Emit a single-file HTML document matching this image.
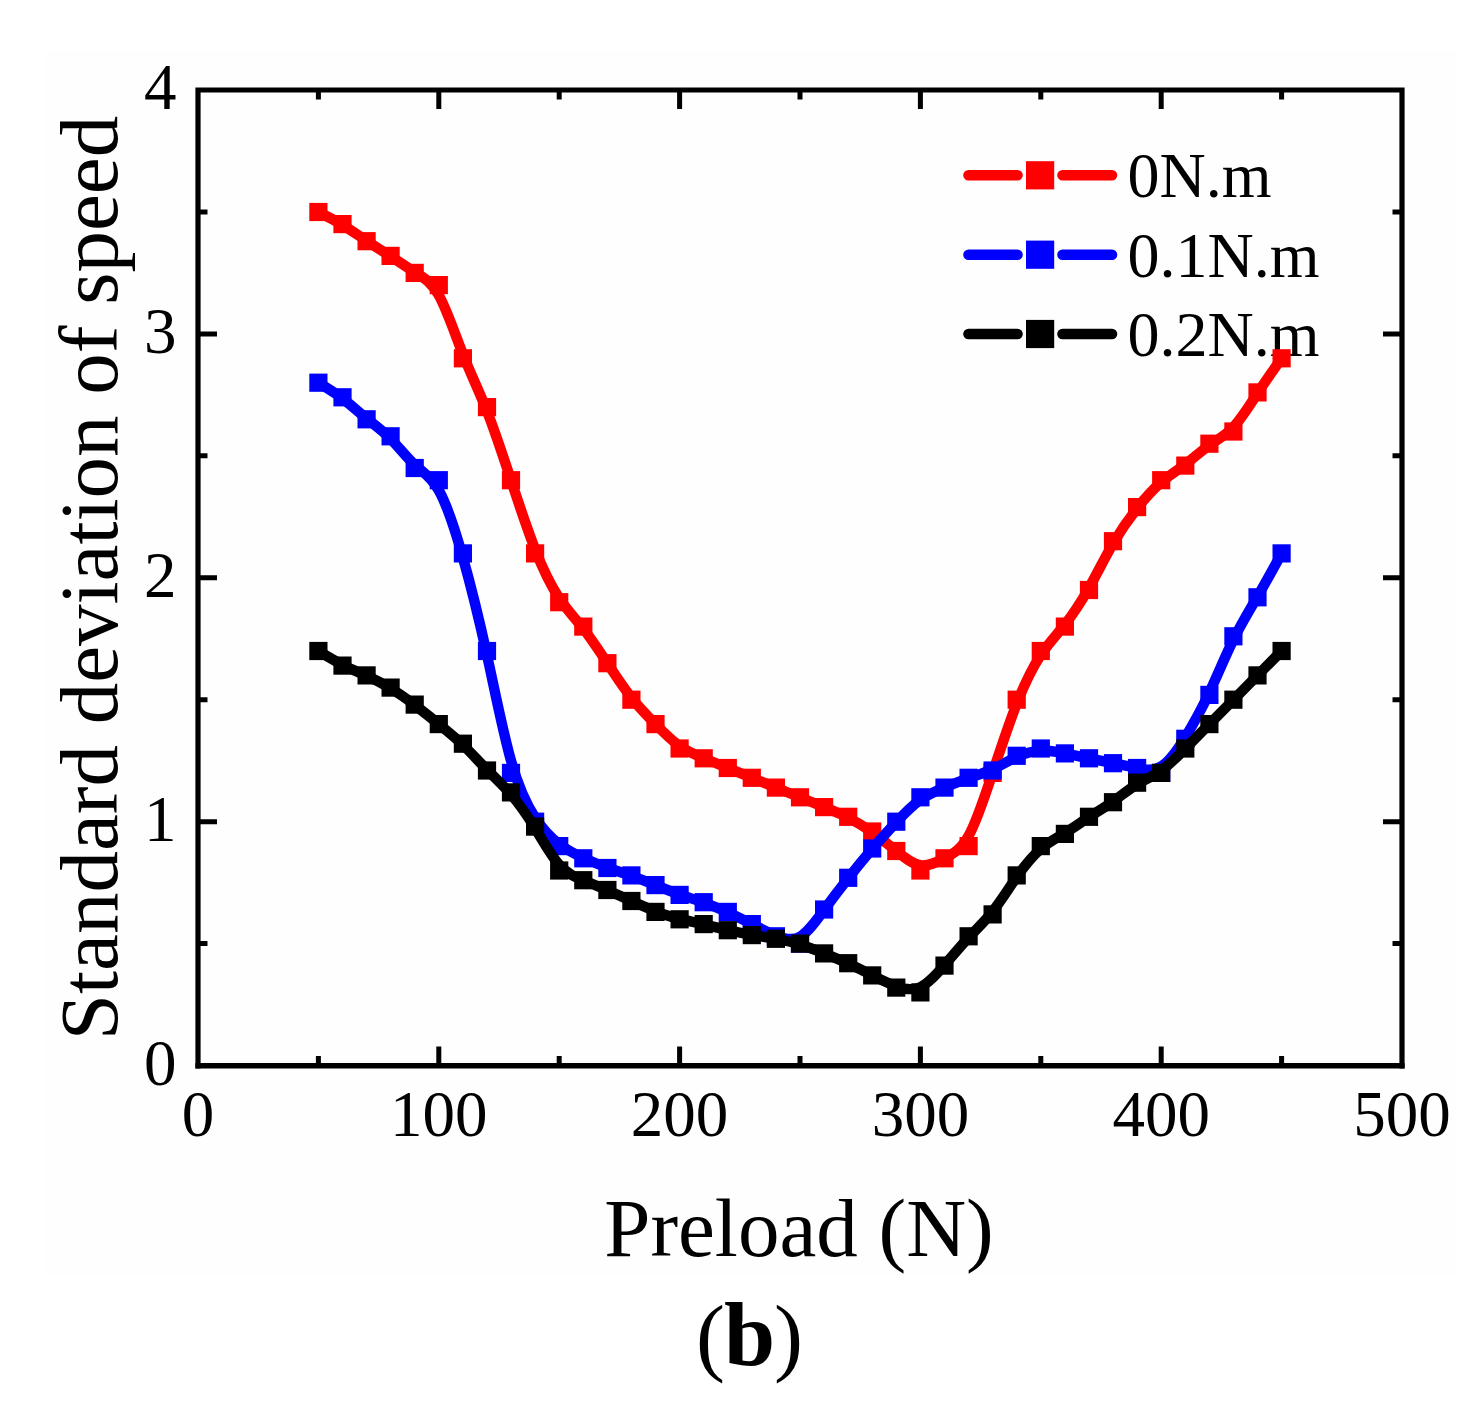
<!DOCTYPE html>
<html lang="en">
<head>
<meta charset="utf-8">
<title>Standard deviation of speed vs Preload (b)</title>
<style>
html,body{margin:0;padding:0;background:#fff;}
body{width:1482px;height:1427px;overflow:hidden;}
svg{display:block;filter:blur(0.55px);}
text{font-family:"Liberation Serif",serif;fill:#000;}
</style>
</head>
<body>
<svg width="1482" height="1427" viewBox="0 0 1482 1427">
<rect x="0" y="0" width="1482" height="1427" fill="#ffffff"/>
<rect x="44" y="51" width="1412.5" height="1224" fill="#fefefe"/>
<g font-size="65"><text x="198.0" y="1135.5" text-anchor="middle">0</text><text x="438.8" y="1135.5" text-anchor="middle">100</text><text x="679.6" y="1135.5" text-anchor="middle">200</text><text x="920.4" y="1135.5" text-anchor="middle">300</text><text x="1161.2" y="1135.5" text-anchor="middle">400</text><text x="1402.0" y="1135.5" text-anchor="middle">500</text><text x="176.5" y="1084.8" text-anchor="end">0</text><text x="176.5" y="840.9" text-anchor="end">1</text><text x="176.5" y="597.0" text-anchor="end">2</text><text x="176.5" y="353.1" text-anchor="end">3</text><text x="176.5" y="109.2" text-anchor="end">4</text></g>
<text transform="translate(117 578) rotate(-90)" font-size="83" text-anchor="middle">Standard deviation of speed</text>
<text x="799" y="1256.3" font-size="83" text-anchor="middle">Preload (N)</text>
<text y="1365" font-size="87"><tspan x="696">(</tspan><tspan x="724" font-size="92" font-weight="bold">b</tspan><tspan x="774">)</tspan></text>
<g stroke="#ff0000" stroke-width="10.6" stroke-linecap="round"><path d="M968.5 175.3H1017.5M1062.5 175.3H1112"/></g><rect x="1026" y="161.2" width="28.2" height="28.2" fill="#ff0000"/><text x="1127.5" y="197.3" font-size="64">0N.m</text><g stroke="#0000ff" stroke-width="10.6" stroke-linecap="round"><path d="M968.5 254.7H1017.5M1062.5 254.7H1112"/></g><rect x="1026" y="240.6" width="28.2" height="28.2" fill="#0000ff"/><text x="1127.5" y="276.7" font-size="64">0.1N.m</text><g stroke="#000000" stroke-width="10.6" stroke-linecap="round"><path d="M968.5 334.0H1017.5M1062.5 334.0H1112"/></g><rect x="1026" y="319.9" width="28.2" height="28.2" fill="#000000"/><text x="1127.5" y="356.0" font-size="64">0.2N.m</text>
<path d="M318.4 212.0C326.4 216.0 334.5 220.1 342.5 225.0C350.5 229.8 358.5 235.5 366.6 240.8C374.6 246.1 382.6 251.0 390.6 256.3C398.7 261.5 406.7 267.2 414.7 272.1C422.7 277.0 430.8 281.1 438.8 295.3C446.8 309.5 454.9 333.9 462.9 354.2C470.9 374.5 478.9 390.8 487.0 411.1C495.0 431.5 503.0 455.8 511.0 480.2C519.1 504.6 527.1 529.0 535.1 549.3C543.1 569.7 551.2 585.9 559.2 598.1C567.2 610.3 575.3 618.4 583.3 628.6C591.3 638.8 599.3 651.0 607.4 663.2C615.4 675.4 623.4 687.6 631.4 697.7C639.5 707.9 647.5 716.0 655.5 724.1C663.5 732.3 671.6 740.4 679.6 746.1C687.6 751.8 695.7 755.0 703.7 758.3C711.7 761.5 719.7 764.8 727.8 768.0C735.8 771.3 743.8 774.5 751.8 777.8C759.9 781.1 767.9 784.3 775.9 787.6C783.9 790.8 792.0 794.1 800.0 797.3C808.0 800.6 816.1 803.8 824.1 807.1C832.1 810.3 840.1 813.6 848.2 817.6C856.2 821.7 864.2 826.6 872.2 832.3C880.3 838.0 888.3 844.5 896.3 851.0C904.3 857.5 912.4 864.0 920.4 865.2C928.4 866.4 936.5 862.3 944.5 858.3C952.5 854.2 960.5 850.2 968.6 835.9C976.6 821.7 984.6 797.3 992.6 772.9C1000.7 748.5 1008.7 724.1 1016.7 703.8C1024.7 683.5 1032.8 667.2 1040.8 655.0C1048.8 642.8 1056.9 634.7 1064.9 624.5C1072.9 614.4 1080.9 602.2 1089.0 588.0C1097.0 573.7 1105.0 557.5 1113.0 543.7C1121.1 529.8 1129.1 518.5 1137.1 508.3C1145.1 498.1 1153.2 489.2 1161.2 482.3C1169.2 475.4 1177.3 470.5 1185.3 464.4C1193.3 458.3 1201.3 451.0 1209.4 445.3C1217.4 439.6 1225.4 435.5 1233.4 427.0C1241.5 418.5 1249.5 405.4 1257.5 393.2C1265.5 381.1 1273.6 369.7 1281.6 358.3" fill="none" stroke="#ff0000" stroke-width="10.4" stroke-linejoin="round" stroke-linecap="round"/>
<g fill="#ff0000"><rect x="309.3" y="202.9" width="18.2" height="18.2"/><rect x="333.4" y="215.0" width="18.2" height="18.2"/><rect x="357.5" y="232.1" width="18.2" height="18.2"/><rect x="381.5" y="246.8" width="18.2" height="18.2"/><rect x="405.6" y="263.8" width="18.2" height="18.2"/><rect x="429.7" y="276.0" width="18.2" height="18.2"/><rect x="453.8" y="349.2" width="18.2" height="18.2"/><rect x="477.9" y="398.0" width="18.2" height="18.2"/><rect x="501.9" y="471.1" width="18.2" height="18.2"/><rect x="526.0" y="544.3" width="18.2" height="18.2"/><rect x="550.1" y="593.1" width="18.2" height="18.2"/><rect x="574.2" y="617.5" width="18.2" height="18.2"/><rect x="598.3" y="654.1" width="18.2" height="18.2"/><rect x="622.3" y="690.6" width="18.2" height="18.2"/><rect x="646.4" y="715.0" width="18.2" height="18.2"/><rect x="670.5" y="739.4" width="18.2" height="18.2"/><rect x="694.6" y="749.2" width="18.2" height="18.2"/><rect x="718.7" y="758.9" width="18.2" height="18.2"/><rect x="742.7" y="768.7" width="18.2" height="18.2"/><rect x="766.8" y="778.5" width="18.2" height="18.2"/><rect x="790.9" y="788.2" width="18.2" height="18.2"/><rect x="815.0" y="798.0" width="18.2" height="18.2"/><rect x="839.1" y="807.7" width="18.2" height="18.2"/><rect x="863.1" y="822.4" width="18.2" height="18.2"/><rect x="887.2" y="841.9" width="18.2" height="18.2"/><rect x="911.3" y="861.4" width="18.2" height="18.2"/><rect x="935.4" y="849.2" width="18.2" height="18.2"/><rect x="959.5" y="837.0" width="18.2" height="18.2"/><rect x="983.5" y="763.8" width="18.2" height="18.2"/><rect x="1007.6" y="690.6" width="18.2" height="18.2"/><rect x="1031.7" y="641.9" width="18.2" height="18.2"/><rect x="1055.8" y="617.5" width="18.2" height="18.2"/><rect x="1079.9" y="580.9" width="18.2" height="18.2"/><rect x="1103.9" y="532.1" width="18.2" height="18.2"/><rect x="1128.0" y="498.0" width="18.2" height="18.2"/><rect x="1152.1" y="471.1" width="18.2" height="18.2"/><rect x="1176.2" y="456.5" width="18.2" height="18.2"/><rect x="1200.3" y="434.6" width="18.2" height="18.2"/><rect x="1224.3" y="422.4" width="18.2" height="18.2"/><rect x="1248.4" y="383.3" width="18.2" height="18.2"/><rect x="1272.5" y="349.2" width="18.2" height="18.2"/></g>
<path d="M318.4 382.7C326.4 387.6 334.5 392.4 342.5 398.5C350.5 404.6 358.5 411.9 366.6 418.5C374.6 425.0 382.6 430.6 390.6 438.8C398.7 446.9 406.7 457.5 414.7 464.8C422.7 472.1 430.8 476.2 438.8 490.4C446.8 504.6 454.9 529.0 462.9 557.5C470.9 585.9 478.9 618.4 487.0 655.0C495.0 691.6 503.0 732.3 511.0 760.7C519.1 789.2 527.1 805.4 535.1 817.6C543.1 829.8 551.2 838.0 559.2 844.1C567.2 850.2 575.3 854.2 583.3 857.9C591.3 861.5 599.3 864.8 607.4 867.6C615.4 870.5 623.4 872.9 631.4 875.8C639.5 878.6 647.5 881.9 655.5 885.1C663.5 888.4 671.6 891.6 679.6 894.5C687.6 897.3 695.7 899.7 703.7 902.6C711.7 905.4 719.7 908.7 727.8 912.3C735.8 916.0 743.8 920.1 751.8 924.1C759.9 928.2 767.9 932.3 775.9 935.5C783.9 938.8 792.0 941.2 800.0 936.7C808.0 932.3 816.1 920.9 824.1 909.9C832.1 898.9 840.1 888.4 848.2 878.2C856.2 868.0 864.2 858.3 872.2 848.9C880.3 839.6 888.3 830.6 896.3 822.1C904.3 813.6 912.4 805.4 920.4 799.7C928.4 794.1 936.5 790.8 944.5 787.6C952.5 784.3 960.5 781.1 968.6 778.2C976.6 775.4 984.6 772.9 992.6 769.3C1000.7 765.6 1008.7 760.7 1016.7 757.1C1024.7 753.4 1032.8 751.0 1040.8 750.6C1048.8 750.2 1056.9 751.8 1064.9 753.4C1072.9 755.0 1080.9 756.7 1089.0 758.3C1097.0 759.9 1105.0 761.5 1113.0 763.2C1121.1 764.8 1129.1 766.4 1137.1 768.0C1145.1 769.7 1153.2 771.3 1161.2 766.4C1169.2 761.5 1177.3 750.2 1185.3 737.1C1193.3 724.1 1201.3 709.5 1209.4 692.4C1217.4 675.4 1225.4 655.8 1233.4 639.6C1241.5 623.3 1249.5 610.3 1257.5 596.5C1265.5 582.7 1273.6 568.0 1281.6 553.4" fill="none" stroke="#0000ff" stroke-width="10.4" stroke-linejoin="round" stroke-linecap="round"/>
<g fill="#0000ff"><rect x="309.3" y="373.6" width="18.2" height="18.2"/><rect x="333.4" y="388.2" width="18.2" height="18.2"/><rect x="357.5" y="410.2" width="18.2" height="18.2"/><rect x="381.5" y="427.2" width="18.2" height="18.2"/><rect x="405.6" y="458.9" width="18.2" height="18.2"/><rect x="429.7" y="471.1" width="18.2" height="18.2"/><rect x="453.8" y="544.3" width="18.2" height="18.2"/><rect x="477.9" y="641.9" width="18.2" height="18.2"/><rect x="501.9" y="763.8" width="18.2" height="18.2"/><rect x="526.0" y="812.6" width="18.2" height="18.2"/><rect x="550.1" y="837.0" width="18.2" height="18.2"/><rect x="574.2" y="849.2" width="18.2" height="18.2"/><rect x="598.3" y="858.9" width="18.2" height="18.2"/><rect x="622.3" y="866.3" width="18.2" height="18.2"/><rect x="646.4" y="876.0" width="18.2" height="18.2"/><rect x="670.5" y="885.8" width="18.2" height="18.2"/><rect x="694.6" y="893.1" width="18.2" height="18.2"/><rect x="718.7" y="902.8" width="18.2" height="18.2"/><rect x="742.7" y="915.0" width="18.2" height="18.2"/><rect x="766.8" y="927.2" width="18.2" height="18.2"/><rect x="790.9" y="934.5" width="18.2" height="18.2"/><rect x="815.0" y="900.4" width="18.2" height="18.2"/><rect x="839.1" y="868.7" width="18.2" height="18.2"/><rect x="863.1" y="839.4" width="18.2" height="18.2"/><rect x="887.2" y="812.6" width="18.2" height="18.2"/><rect x="911.3" y="788.2" width="18.2" height="18.2"/><rect x="935.4" y="778.5" width="18.2" height="18.2"/><rect x="959.5" y="768.7" width="18.2" height="18.2"/><rect x="983.5" y="761.4" width="18.2" height="18.2"/><rect x="1007.6" y="746.7" width="18.2" height="18.2"/><rect x="1031.7" y="739.4" width="18.2" height="18.2"/><rect x="1055.8" y="744.3" width="18.2" height="18.2"/><rect x="1079.9" y="749.2" width="18.2" height="18.2"/><rect x="1103.9" y="754.1" width="18.2" height="18.2"/><rect x="1128.0" y="758.9" width="18.2" height="18.2"/><rect x="1152.1" y="763.8" width="18.2" height="18.2"/><rect x="1176.2" y="729.7" width="18.2" height="18.2"/><rect x="1200.3" y="685.8" width="18.2" height="18.2"/><rect x="1224.3" y="627.2" width="18.2" height="18.2"/><rect x="1248.4" y="588.2" width="18.2" height="18.2"/><rect x="1272.5" y="544.3" width="18.2" height="18.2"/></g>
<path d="M318.4 651.0C326.4 655.8 334.5 660.7 342.5 664.8C350.5 668.9 358.5 672.1 366.6 675.8C374.6 679.4 382.6 683.5 390.6 688.4C398.7 693.2 406.7 698.9 414.7 705.0C422.7 711.1 430.8 717.6 438.8 724.1C446.8 730.6 454.9 737.1 462.9 744.9C470.9 752.6 478.9 761.5 487.0 769.7C495.0 777.8 503.0 785.1 511.0 794.5C519.1 803.8 527.1 815.2 535.1 828.2C543.1 841.2 551.2 855.8 559.2 864.8C567.2 873.7 575.3 877.0 583.3 880.2C591.3 883.5 599.3 886.7 607.4 890.2C615.4 893.7 623.4 897.3 631.4 901.0C639.5 904.6 647.5 908.3 655.5 911.3C663.5 914.4 671.6 916.8 679.6 918.9C687.6 920.9 695.7 922.5 703.7 924.3C711.7 926.2 719.7 928.2 727.8 930.0C735.8 931.9 743.8 933.5 751.8 934.9C759.9 936.3 767.9 937.6 775.9 939.0C783.9 940.4 792.0 942.0 800.0 944.5C808.0 946.9 816.1 950.2 824.1 953.4C832.1 956.7 840.1 959.9 848.2 963.6C856.2 967.2 864.2 971.3 872.2 975.4C880.3 979.4 888.3 983.5 896.3 986.3C904.3 989.2 912.4 990.8 920.4 987.1C928.4 983.5 936.5 974.5 944.5 965.2C952.5 955.8 960.5 946.1 968.6 937.6C976.6 929.0 984.6 921.7 992.6 911.5C1000.7 901.4 1008.7 888.4 1016.7 877.0C1024.7 865.6 1032.8 855.8 1040.8 848.9C1048.8 842.0 1056.9 838.0 1064.9 833.1C1072.9 828.2 1080.9 822.5 1089.0 817.2C1097.0 811.9 1105.0 807.1 1113.0 801.4C1121.1 795.7 1129.1 789.2 1137.1 784.3C1145.1 779.4 1153.2 776.2 1161.2 770.5C1169.2 764.8 1177.3 756.7 1185.3 748.5C1193.3 740.4 1201.3 732.3 1209.4 724.1C1217.4 716.0 1225.4 707.9 1233.4 699.8C1241.5 691.6 1249.5 683.5 1257.5 675.4C1265.5 667.2 1273.6 659.1 1281.6 651.0" fill="none" stroke="#000000" stroke-width="10.4" stroke-linejoin="round" stroke-linecap="round"/>
<g fill="#000000"><rect x="309.3" y="641.9" width="18.2" height="18.2"/><rect x="333.4" y="656.5" width="18.2" height="18.2"/><rect x="357.5" y="666.3" width="18.2" height="18.2"/><rect x="381.5" y="678.5" width="18.2" height="18.2"/><rect x="405.6" y="695.5" width="18.2" height="18.2"/><rect x="429.7" y="715.0" width="18.2" height="18.2"/><rect x="453.8" y="734.6" width="18.2" height="18.2"/><rect x="477.9" y="761.4" width="18.2" height="18.2"/><rect x="501.9" y="783.3" width="18.2" height="18.2"/><rect x="526.0" y="817.5" width="18.2" height="18.2"/><rect x="550.1" y="861.4" width="18.2" height="18.2"/><rect x="574.2" y="871.1" width="18.2" height="18.2"/><rect x="598.3" y="880.9" width="18.2" height="18.2"/><rect x="622.3" y="891.9" width="18.2" height="18.2"/><rect x="646.4" y="902.8" width="18.2" height="18.2"/><rect x="670.5" y="910.2" width="18.2" height="18.2"/><rect x="694.6" y="915.0" width="18.2" height="18.2"/><rect x="718.7" y="921.1" width="18.2" height="18.2"/><rect x="742.7" y="926.0" width="18.2" height="18.2"/><rect x="766.8" y="929.7" width="18.2" height="18.2"/><rect x="790.9" y="934.5" width="18.2" height="18.2"/><rect x="815.0" y="944.3" width="18.2" height="18.2"/><rect x="839.1" y="954.1" width="18.2" height="18.2"/><rect x="863.1" y="966.3" width="18.2" height="18.2"/><rect x="887.2" y="978.5" width="18.2" height="18.2"/><rect x="911.3" y="983.3" width="18.2" height="18.2"/><rect x="935.4" y="956.5" width="18.2" height="18.2"/><rect x="959.5" y="927.2" width="18.2" height="18.2"/><rect x="983.5" y="905.3" width="18.2" height="18.2"/><rect x="1007.6" y="866.3" width="18.2" height="18.2"/><rect x="1031.7" y="837.0" width="18.2" height="18.2"/><rect x="1055.8" y="824.8" width="18.2" height="18.2"/><rect x="1079.9" y="807.7" width="18.2" height="18.2"/><rect x="1103.9" y="793.1" width="18.2" height="18.2"/><rect x="1128.0" y="773.6" width="18.2" height="18.2"/><rect x="1152.1" y="763.8" width="18.2" height="18.2"/><rect x="1176.2" y="739.4" width="18.2" height="18.2"/><rect x="1200.3" y="715.0" width="18.2" height="18.2"/><rect x="1224.3" y="690.6" width="18.2" height="18.2"/><rect x="1248.4" y="666.3" width="18.2" height="18.2"/><rect x="1272.5" y="641.9" width="18.2" height="18.2"/></g>

<g stroke="#000" stroke-width="5.0" fill="none"><path d="M318.4 1065.6V1056.1M318.4 90.0V99.5"/><path d="M438.8 1065.6V1046.6M438.8 90.0V109.0"/><path d="M559.2 1065.6V1056.1M559.2 90.0V99.5"/><path d="M679.6 1065.6V1046.6M679.6 90.0V109.0"/><path d="M800.0 1065.6V1056.1M800.0 90.0V99.5"/><path d="M920.4 1065.6V1046.6M920.4 90.0V109.0"/><path d="M1040.8 1065.6V1056.1M1040.8 90.0V99.5"/><path d="M1161.2 1065.6V1046.6M1161.2 90.0V109.0"/><path d="M1281.6 1065.6V1056.1M1281.6 90.0V99.5"/><path d="M198.0 943.6H207.5M1402.0 943.6H1392.5"/><path d="M198.0 821.7H217.0M1402.0 821.7H1383.0"/><path d="M198.0 699.8H207.5M1402.0 699.8H1392.5"/><path d="M198.0 577.8H217.0M1402.0 577.8H1383.0"/><path d="M198.0 455.8H207.5M1402.0 455.8H1392.5"/><path d="M198.0 333.9H217.0M1402.0 333.9H1383.0"/><path d="M198.0 212.0H207.5M1402.0 212.0H1392.5"/></g>
<path d="M198.0 1068.4V90.0H1402.0V1068.4" fill="none" stroke="#000" stroke-width="5.2" stroke-linejoin="miter"/>
<path d="M195.4 1065.7H1404.6" fill="none" stroke="#000" stroke-width="5.4"/>
</svg>
</body>
</html>
